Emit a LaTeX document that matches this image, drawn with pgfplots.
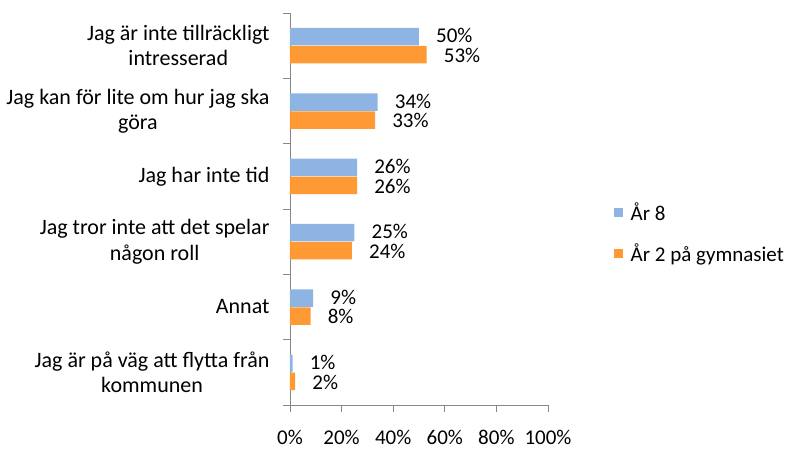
\documentclass[border=0pt]{standalone}
\usepackage{fontspec}
\setmainfont{Carlito}
\usepackage{pgfplots}
\pgfplotsset{compat=1.18}
\definecolor{barblue}{HTML}{8EB4E3}
\definecolor{barorange}{HTML}{FF9933}
\definecolor{axisgray}{HTML}{878787}
\begin{document}
\begin{tikzpicture}
\begin{axis}[
    width=258pt, height=392pt, scale only axis,
    xbar, bar width=17.5pt,
    xmin=0, xmax=100,
    ymin=-0.5, ymax=5.5,
    axis lines*=left,
    axis line style={axisgray, line width=0.9pt},
    tick align=outside,
    xtick={0,20,...,100},
    xticklabel={\pgfmathprintnumber\tick\%},
    major tick length=7pt,
    minor tick length=7pt,
    x tick style={axisgray, line width=0.9pt},
    ytick={0,...,5},
    minor ytick={-0.5,0.5,...,5.5},
    major y tick style={draw=none},
    minor y tick style={axisgray, line width=0.9pt},
    yticklabels={{Jag är på väg att flytta från\\kommunen},
                 {Annat},
                 {Jag tror inte att det spelar\\någon roll},
                 {Jag har inte tid},
                 {Jag kan för lite om hur jag ska\\göra},
                 {Jag är inte tillräckligt\\intresserad}},
    yticklabel style={align=center, font=\fontsize{22}{25.5}\selectfont, xshift=-10pt},
    xticklabel style={font=\fontsize{21}{25}\selectfont, inner ysep=0pt, yshift=-18pt},
    /pgf/number format/assume math mode=true,
    nodes near coords={\pgfmathprintnumber\pgfplotspointmeta\%},
    every node near coord/.append style={font=\fontsize{21}{25}\selectfont,
        inner xsep=0pt, inner ysep=0pt, xshift=17pt, text=black},
    legend image code/.code={\fill[#1] (0pt,-4.5pt) rectangle (8.5pt,4.5pt);},
    legend style={at={(1.256,0.439)}, anchor=west, draw=none, fill=none,
        inner sep=0pt, font=\fontsize{21}{25}\selectfont, row sep=18pt,
        /tikz/every odd column/.append style={column sep=6pt}},
    legend cell align=left,
]
\addplot[draw=none, fill=barblue, bar shift=9pt,
    every node near coord/.append style={yshift=0.8pt}]
    coordinates {(1,0) (9,1) (25,2) (26,3) (34,4) (50,5)};
\addplot[draw=none, fill=barorange, bar shift=-9pt,
    every node near coord/.append style={yshift=-0.8pt}]
    coordinates {(2,0) (8,1) (24,2) (26,3) (33,4) (53,5)};
\legend{År 8, År 2 på gymnasiet}
\end{axis}
\path (current axis.south west) ++(-290pt,-45pt) rectangle ++(787pt,450pt);
\end{tikzpicture}
\end{document}
